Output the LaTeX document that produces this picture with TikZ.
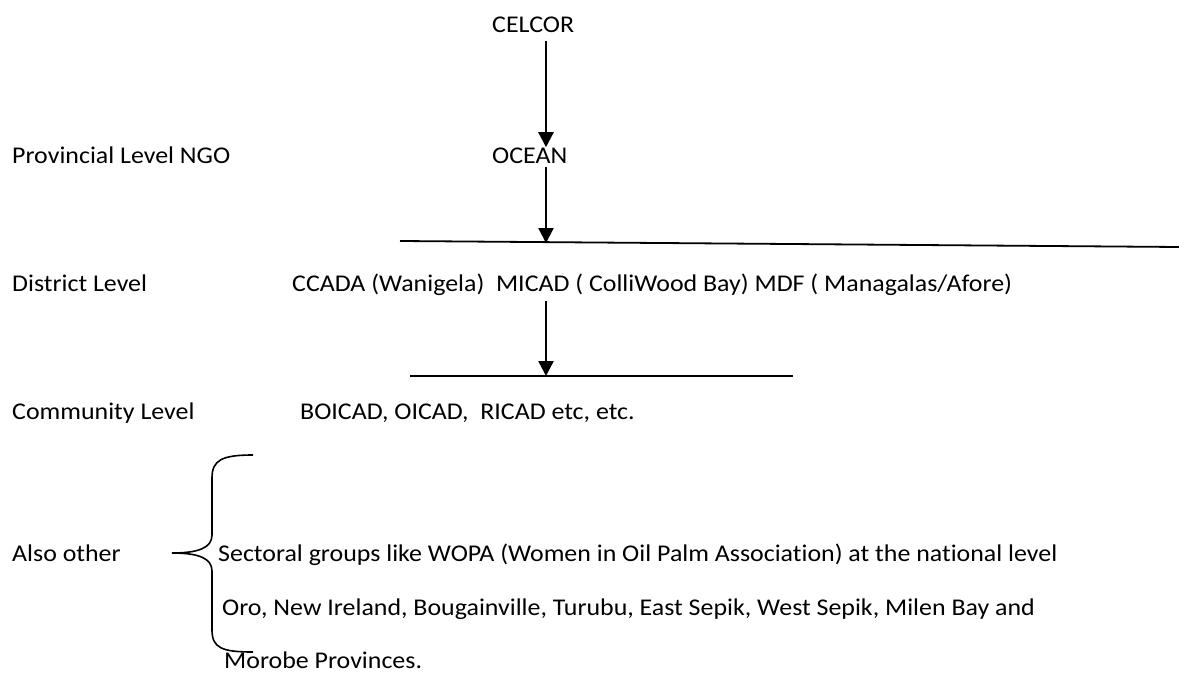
\documentclass[tikz,border=0pt]{standalone}
\usepackage{fontspec}
\setmainfont{Carlito}[FakeStretch=1.08,Ligatures=NoCommon]
\usetikzlibrary{arrows.meta,positioning,calc}

\begin{document}
\begin{tikzpicture}[x=1pt,y=-1pt,font=\fontsize{24}{28}\selectfont,
  lbl/.style={anchor=base west,inner sep=0pt},
  flow/.style={line width=2.4pt,-{Triangle[length=15pt,width=15pt]}},
  bar/.style={line width=1.8pt}]
  \useasboundingbox (0,0) rectangle (1179,677);
  % levels on the left
  \node[lbl] (prov) at (12,163) {Provincial Level NGO};
  \node[lbl] (dist) at (12,291) {District Level};
  \node[lbl] (comm) at (12,419) {Community Level};
  \node[lbl] (also) at (12,561) {Also other};
  % organisations
  \node[lbl] (celcor) at (492,33) {CELCOR};
  \node[lbl] (ocean) at (492,163) {OCEAN};
  \node[lbl] (ccada) at (292,291) {CCADA (Wanigela)\ \ MICAD ( ColliWood Bay) MDF ( Managalas/Afore)};
  \node[lbl] (boicad) at (300,419) {BOICAD, OICAD,\ \ RICAD etc, etc.};
  \node[lbl] (sector) at (218,561) {Sectoral groups like WOPA (Women in Oil Palm Association) at the national level};
  \node[lbl] (oro) at (222,615) {Oro, New Ireland, Bougainville, Turubu, East Sepik, West Sepik, Milen Bay and};
  \node[lbl] (morobe) at (224,668) {Morobe Provinces.};
  % bars and arrows
  \coordinate (barA) at (546,243); \coordinate (barB) at (546,376);
  \draw[bar] (400,241) -- (1179,247);
  \draw[bar] (410,376) -- (793,376);
  \draw[flow] (celcor.south -| barA) ++(0,8) -- (barA |- ocean.north);
  \draw[flow] (barA |- ocean.south) ++(0,4) -- (barA);
  \draw[flow] (barB |- ccada.south) ++(0,6) -- (barB);
  % brace
  \draw[line width=1.6pt] (253,455) .. controls (222,455) and (212,460) .. (212,478) -- (212,535)
    .. controls (212,548) and (198,553) .. (172,553)
    .. controls (198,553) and (212,558) .. (212,571) -- (212,630)
    .. controls (212,648) and (222,652) .. (253,652);
\end{tikzpicture}
\end{document}
